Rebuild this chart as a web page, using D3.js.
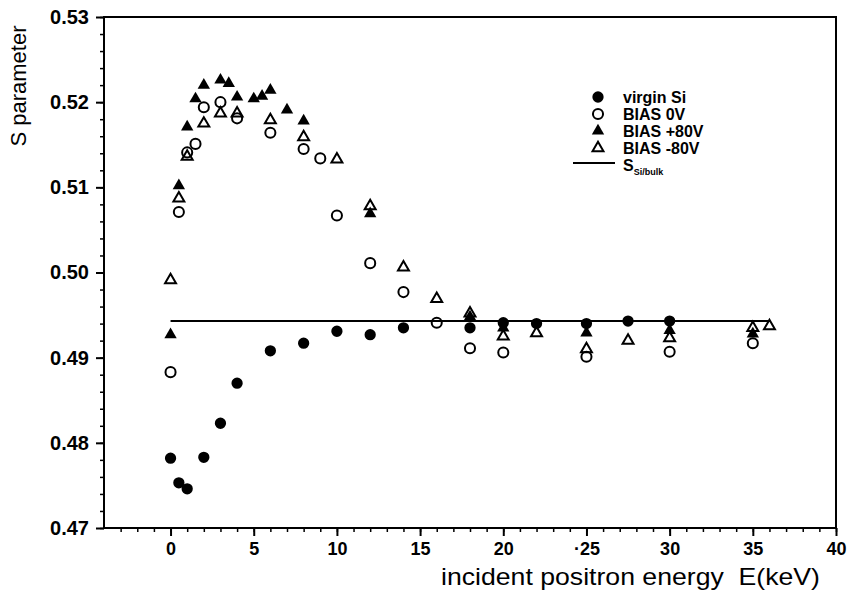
<!DOCTYPE html>
<html>
<head>
<meta charset="utf-8">
<script src="https://cdn.jsdelivr.net/npm/d3@7"></script>
<style>
  body { margin: 0; background: #fff; }
  svg text { font-family: "Liberation Sans", Arial, sans-serif; fill: #000; }
  .tick text { font-weight: bold; }
  .x-axis .tick text { font-size: 18px; }
  .y-axis .tick text { font-size: 20px; }
</style>
</head>
<body>
<svg id="chart" width="848" height="599"></svg>
<script>
// energies in keV, S parameter values
const virginE = [0, 0.5, 1, 2, 3, 4, 6, 8, 10, 12, 14, 18, 20, 22, 25, 27.5, 30];
const virginS = [0.4782, 0.4753, 0.4746, 0.4783, 0.4823, 0.4870, 0.4908, 0.4917, 0.4931, 0.4927, 0.4935, 0.4935, 0.4941, 0.4940, 0.4940, 0.4943, 0.4943];

const bias0E = [0, 0.5, 1, 1.5, 2, 3, 4, 6, 8, 9, 10, 12, 14, 16, 18, 20, 25, 30, 35];
const bias0S = [0.4883, 0.5071, 0.5141, 0.5151, 0.5194, 0.5200, 0.5181, 0.5164, 0.5145, 0.5134, 0.5067, 0.5011, 0.4977, 0.4941, 0.4911, 0.4906, 0.4901, 0.4907, 0.4917];

const biasPlusE = [0, 0.5, 1, 1.5, 2, 3, 3.5, 4, 5, 5.5, 6, 7, 8, 12, 18, 20, 25, 30, 35];
const biasPlusS = [0.4927, 0.5102, 0.5171, 0.5204, 0.5220, 0.5226, 0.5222, 0.5206, 0.5204, 0.5207, 0.5214, 0.5191, 0.5178, 0.5069, 0.4948, 0.4935, 0.4929, 0.4932, 0.4928];

const biasMinusE = [0, 0.5, 1, 2, 3, 4, 6, 8, 10, 12, 14, 16, 18, 20, 22, 25, 27.5, 30, 35, 36];
const biasMinusS = [0.4991, 0.5087, 0.5136, 0.5175, 0.5187, 0.5187, 0.5179, 0.5159, 0.5133, 0.5078, 0.5006, 0.4969, 0.4952, 0.4925, 0.4929, 0.4910, 0.4920, 0.4923, 0.4935, 0.4937];

const bulkE = [0, 36];
const bulkS = 0.4943;

const xTicks = [0, 5, 10, 15, 20, 25, 30, 35, 40];
const yTicks = [0.47, 0.48, 0.49, 0.50, 0.51, 0.52, 0.53];

const svg = d3.select("#chart");
const margin = { top: 17, right: 12, bottom: 71, left: 104 };
const width = +svg.attr("width");
const height = +svg.attr("height");

const x = d3.scaleLinear().domain([-4, 40]).range([margin.left, width - margin.right]);
const y = d3.scaleLinear().domain([0.47, 0.53]).range([height - margin.bottom, margin.top]);

// frame
svg.append("rect")
  .attr("x", margin.left)
  .attr("y", margin.top)
  .attr("width", width - margin.left - margin.right)
  .attr("height", height - margin.top - margin.bottom)
  .attr("fill", "none")
  .attr("stroke", "#000")
  .attr("stroke-width", 2);

// minor ticks
svg.append("g")
  .attr("transform", "translate(0," + (height - margin.bottom) + ")")
  .call(d3.axisBottom(x).tickValues(d3.range(-3, 41, 1)).tickSize(4).tickFormat(""))
  .call((g) => g.select(".domain").remove())
  .selectAll("line").attr("stroke-width", 1.5);

svg.append("g")
  .attr("transform", "translate(" + margin.left + ",0)")
  .call(d3.axisLeft(y).tickValues(d3.range(0, 31).map((i) => 0.47 + i * 0.002)).tickSize(4).tickFormat(""))
  .call((g) => g.select(".domain").remove())
  .selectAll("line").attr("stroke-width", 1.5);

// major ticks + labels
svg.append("g")
  .attr("class", "x-axis")
  .attr("transform", "translate(0," + (height - margin.bottom) + ")")
  .call(d3.axisBottom(x).tickValues(xTicks).tickSize(8).tickPadding(6)
    .tickFormat((d) => (d === 25 ? "\u00b725" : d)))
  .call((g) => g.select(".domain").remove())
  .call((g) => g.selectAll("line").attr("stroke-width", 2));

svg.append("g")
  .attr("class", "y-axis")
  .attr("transform", "translate(" + margin.left + ",0)")
  .call(d3.axisLeft(y).tickValues(yTicks).tickSize(8).tickPadding(7).tickFormat(d3.format(".2f")))
  .call((g) => g.select(".domain").remove())
  .call((g) => g.selectAll("line").attr("stroke-width", 2));

svg.selectAll(".tick text").attr("fill", "#000");

// axis titles
svg.append("text")
  .attr("x", 441)
  .attr("y", 585)
  .attr("textLength", 379)
  .attr("lengthAdjust", "spacingAndGlyphs")
  .style("font-size", "24px")
  .style("white-space", "pre")
  .text("incident positron energy  E(keV)");

svg.append("text")
  .attr("transform", "translate(26,86) rotate(-90)")
  .attr("text-anchor", "middle")
  .style("font-size", "22px")
  .text("S parameter");

// bulk reference line
svg.append("line")
  .attr("x1", x(bulkE[0]))
  .attr("x2", x(bulkE[1]))
  .attr("y1", y(bulkS))
  .attr("y2", y(bulkS))
  .attr("stroke", "#000")
  .attr("stroke-width", 2);

const circle = d3.symbol().type(d3.symbolCircle).size(100);
const triangle = d3.symbol().type(d3.symbolTriangle).size(66);

const series = [
  { name: "virgin Si", E: virginE, S: virginS, sym: circle, filled: true },
  { name: "BIAS 0V", E: bias0E, S: bias0S, sym: d3.symbol().type(d3.symbolCircle).size(80), filled: false },
  { name: "BIAS +80V", E: biasPlusE, S: biasPlusS, sym: triangle, filled: true },
  { name: "BIAS -80V", E: biasMinusE, S: biasMinusS, sym: d3.symbol().type(d3.symbolTriangle).size(52), filled: false },
];

series.forEach(function (s) {
  svg.append("g")
    .selectAll("path")
    .data(s.E.map((e, i) => ({ E: e, S: s.S[i] })))
    .enter()
    .append("path")
    .attr("d", s.sym)
    .attr("transform", (d) => "translate(" + x(d.E) + "," + y(d.S) + ")")
    .attr("fill", s.filled ? "#000" : "none")
    .attr("stroke", "#000")
    .attr("stroke-width", s.filled ? 0 : 2);
});

// legend
const legend = svg.append("g").attr("transform", "translate(598,97)");
series.forEach(function (s, i) {
  const row = legend.append("g").attr("transform", "translate(0," + i * 17 + ")");
  row.append("path")
    .attr("d", s.sym)
    .attr("fill", s.filled ? "#000" : "none")
    .attr("stroke", "#000")
    .attr("stroke-width", s.filled ? 0 : 2);
  row.append("text")
    .attr("x", 25)
    .attr("y", 6)
    .style("font-size", "16px")
    .style("font-weight", "bold")
    .text(s.name);
});
const lineRow = legend.append("g").attr("transform", "translate(0," + (4 * 17 + 5) + ")");
lineRow.append("line")
  .attr("x1", -25).attr("x2", 17)
  .attr("y1", -7).attr("y2", -7)
  .attr("stroke", "#000").attr("stroke-width", 2);
const st = lineRow.append("text").attr("x", 25).attr("y", 1)
  .style("font-size", "16px").style("font-weight", "bold");
st.append("tspan").text("S");
st.append("tspan").attr("dy", 4).style("font-size", "9px").text("Si/bulk");
</script>
</body>
</html>
